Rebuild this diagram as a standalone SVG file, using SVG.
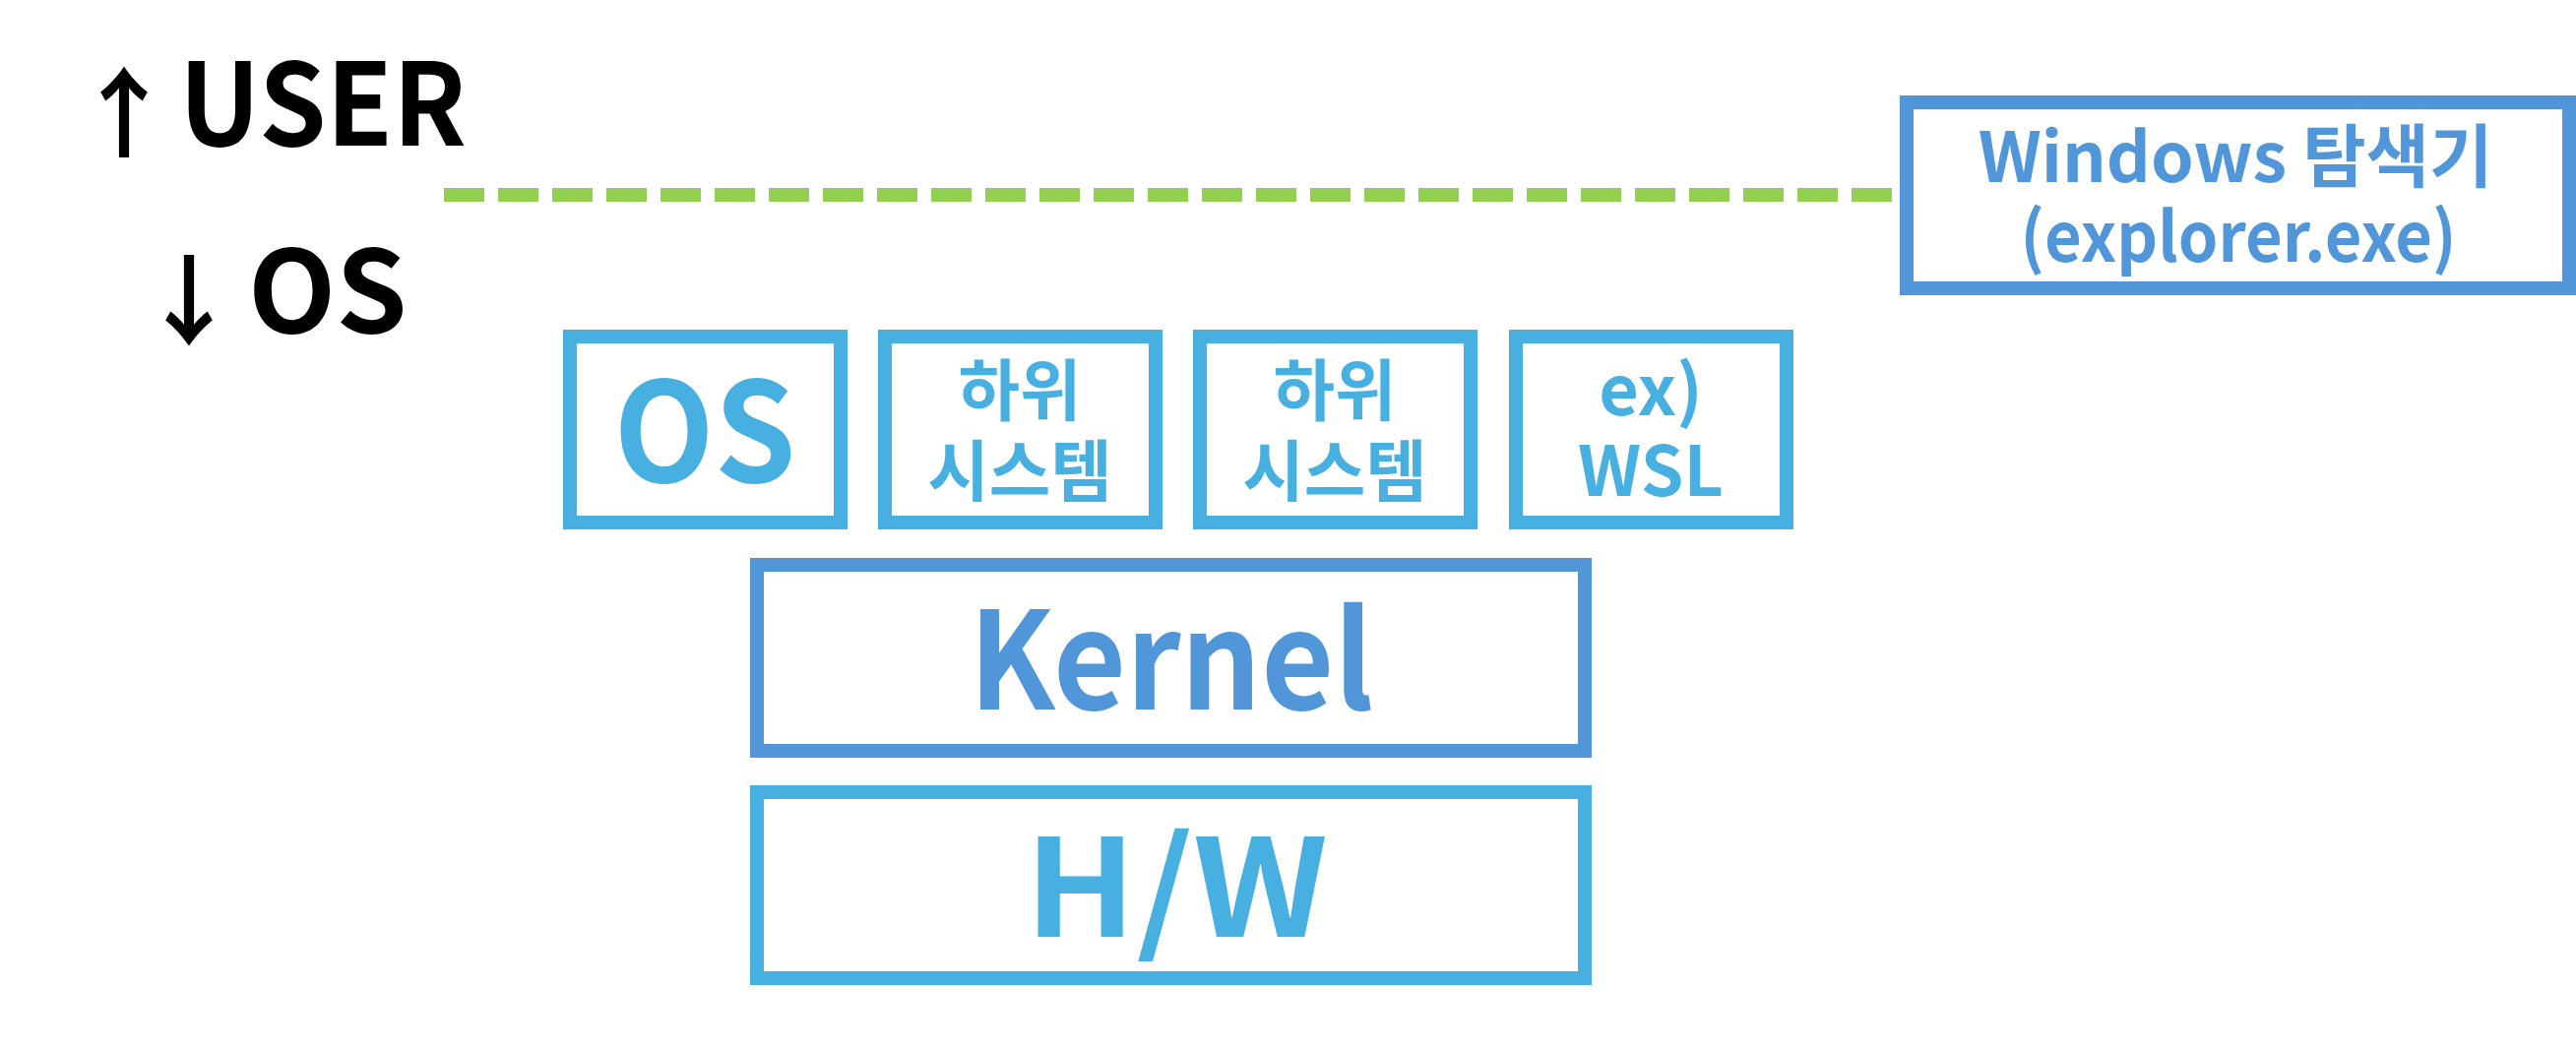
<svg xmlns="http://www.w3.org/2000/svg" width="2617" height="1065" viewBox="0 0 2617 1065">
<style>
  text { font-family: "Noto Sans CJK KR", "Noto Sans", sans-serif; font-weight: 700; }
  .box { fill: #ffffff; stroke-width: 14; }
  .blue { stroke: #5096D9; }
  .aqua { stroke: #47B0E0; }
  .tblue { fill: #5096D9; }
  .taqua { fill: #47B0E0; }
  .mid { text-anchor: middle; }
  .lbl { fill: #000000; }
</style>
<rect width="2617" height="1065" fill="#ffffff"/>

<g id="layer-labels">
  <text id="label-user" class="lbl" font-size="116" y="148"><tspan x="76" y="152" font-size="100">↑</tspan><tspan x="182" y="148" textLength="292" lengthAdjust="spacingAndGlyphs">USER</tspan></text>
  <text id="label-os" class="lbl" font-size="116" y="338"><tspan x="142" y="343" font-size="100">↓</tspan><tspan x="252" y="338">OS</tspan></text>
</g>

<g id="connectors">
  <line x1="451" y1="198" x2="1922" y2="198" stroke="#92D050" stroke-width="14" stroke-dasharray="41 14"/>
</g>

<g id="node-explorer">
  <rect class="box blue" x="1937" y="104" width="673" height="189"/>
  <text class="tblue mid" font-size="70" x="2271" y="185">Windows 탐색기</text>
  <text class="tblue mid" font-size="70" x="2274" y="266" textLength="443" lengthAdjust="spacingAndGlyphs">(explorer.exe)</text>
</g>

<g id="node-os">
  <rect class="box aqua" x="579" y="342" width="275" height="189"/>
  <text class="taqua mid" font-size="140" x="716" y="490" textLength="185" lengthAdjust="spacingAndGlyphs">OS</text>
</g>

<g id="node-subsystem-1">
  <rect class="box aqua" x="899" y="342" width="275" height="189"/>
  <text class="taqua mid" font-size="68" x="1036" y="422">하위</text>
  <text class="taqua mid" font-size="68" x="1036" y="504">시스템</text>
</g>

<g id="node-subsystem-2">
  <rect class="box aqua" x="1219" y="342" width="275" height="189"/>
  <text class="taqua mid" font-size="68" x="1356" y="422">하위</text>
  <text class="taqua mid" font-size="68" x="1356" y="504">시스템</text>
</g>

<g id="node-wsl">
  <rect class="box aqua" x="1540" y="342" width="275" height="189"/>
  <text class="taqua mid" font-size="70" x="1677" y="422">ex)</text>
  <text class="taqua mid" font-size="70" x="1677" y="504">WSL</text>
</g>

<g id="node-kernel">
  <rect class="box blue" x="769" y="574" width="841" height="189"/>
  <text class="tblue mid" font-size="137" x="1190" y="721" textLength="411" lengthAdjust="spacingAndGlyphs">Kernel</text>
</g>

<g id="node-hw">
  <rect class="box aqua" x="769" y="805" width="841" height="189"/>
  <text class="taqua mid" font-size="137" x="1195" y="952" textLength="308" lengthAdjust="spacingAndGlyphs">H/W</text>
</g>
</svg>
